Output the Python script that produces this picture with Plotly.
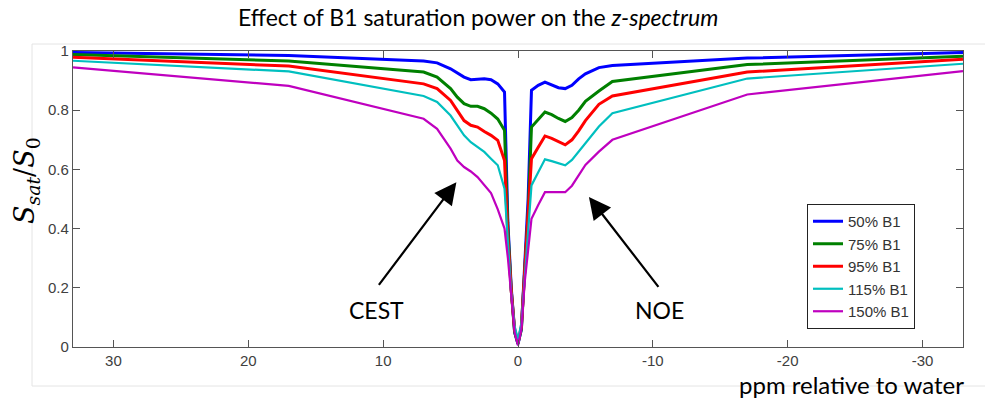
import plotly.graph_objects as go

ppm = [33, 17, 7, 6, 5, 4.5, 4, 3.5, 3, 2.5, 2, 1.5, 1, 0.75, 0.5, 0.25, 0,
       -0.25, -0.5, -0.75, -1, -1.5, -2, -2.5, -3, -3.5, -4, -4.5, -5, -6, -7, -17, -33]

b1_50 = [0.995, 0.985, 0.966, 0.960, 0.940, 0.927, 0.912, 0.903, 0.904, 0.906, 0.903, 0.889, 0.861,
         0.42, 0.20, 0.05, 0.010,
         0.06, 0.28, 0.50, 0.867, 0.884, 0.895, 0.886, 0.876, 0.873, 0.884, 0.906, 0.923, 0.944, 0.951, 0.976, 0.995]
b1_75 = [0.988, 0.966, 0.929, 0.912, 0.873, 0.844, 0.822, 0.813, 0.813, 0.805, 0.790, 0.770, 0.732,
         0.40, 0.19, 0.05, 0.012,
         0.06, 0.26, 0.45, 0.743, 0.770, 0.794, 0.785, 0.772, 0.762, 0.775, 0.800, 0.830, 0.865, 0.897, 0.954, 0.982]
b1_95 = [0.979, 0.949, 0.889, 0.873, 0.833, 0.799, 0.765, 0.749, 0.743, 0.728, 0.715, 0.698, 0.630,
         0.37, 0.19, 0.06, 0.015,
         0.07, 0.25, 0.42, 0.636, 0.675, 0.713, 0.705, 0.693, 0.683, 0.700, 0.730, 0.765, 0.820, 0.848, 0.929, 0.972]
b1_115 = [0.967, 0.931, 0.848, 0.828, 0.782, 0.749, 0.715, 0.692, 0.675, 0.659, 0.636, 0.614, 0.535,
          0.34, 0.18, 0.07, 0.025,
          0.08, 0.24, 0.38, 0.546, 0.590, 0.634, 0.628, 0.620, 0.614, 0.632, 0.660, 0.690, 0.745, 0.790, 0.907, 0.957]
b1_150 = [0.945, 0.882, 0.771, 0.737, 0.670, 0.630, 0.608, 0.593, 0.574, 0.546, 0.520, 0.465, 0.400,
          0.30, 0.17, 0.05, 0.005,
          0.06, 0.22, 0.33, 0.433, 0.480, 0.523, 0.523, 0.523, 0.523, 0.545, 0.580, 0.615, 0.660, 0.700, 0.853, 0.932]

series_names = ["50% B1", "75% B1", "95% B1", "115% B1", "150% B1"]
series_values = [b1_50, b1_75, b1_95, b1_115, b1_150]
series_colors = ["#0000FF", "#008000", "#FF0000", "#00BFBF", "#BF00BF"]
series_widths = [3, 3, 3, 2.2, 2.2]

x_ticks = [30, 20, 10, 0, -10, -20, -30]
y_ticks = [0, 0.2, 0.4, 0.6, 0.8, 1]

fig = go.Figure()
for name, vals, col, w in zip(series_names, series_values, series_colors, series_widths):
    fig.add_trace(go.Scatter(x=ppm, y=vals, mode="lines", name=name,
                             line=dict(color=col, width=w)))

W, H = 985, 399
L, R, T, B = 73, 22, 51, 52
pw, ph = W - L - R, H - T - B


def px(x):
    return (x - L) / pw


def py(y):
    return (H - B - y) / ph


axis_common = dict(showline=True, linecolor="#555555", linewidth=1.3, mirror="ticks",
                   ticks="inside", ticklen=7, tickcolor="#555555", tickwidth=1.3,
                   showgrid=False, zeroline=False,
                   tickfont=dict(family="Liberation Sans, Arial", size=15, color="#404040"))

fig.update_xaxes(range=[33, -33], tickvals=x_ticks, ticktext=[str(v) for v in x_ticks], **axis_common)
fig.update_yaxes(range=[0, 1], tickvals=y_ticks, ticktext=["0", "0.2", "0.4", "0.6", "0.8", "1"], **axis_common)

fig.update_layout(
    width=W, height=H,
    margin=dict(l=L, r=R, t=T, b=B),
    paper_bgcolor="white", plot_bgcolor="white",
    showlegend=True,
    legend=dict(x=px(807), y=py(204), xanchor="left", yanchor="top",
                bgcolor="white", bordercolor="#222222", borderwidth=1,
                font=dict(family="Liberation Sans, Arial", size=15, color="#333333"),
                tracegroupgap=0, itemwidth=30),
    shapes=[dict(type="rect", xref="paper", yref="paper",
                 x0=px(32), x1=px(990), y0=py(386), y1=py(44),
                 line=dict(color="#E4E4E4", width=1), fillcolor="rgba(0,0,0,0)", layer="below")],
)

big_font = dict(family="Lato, Open Sans, sans-serif", size=23, color="black")

fig.add_annotation(xref="paper", yref="paper", x=px(478), y=py(17),
                   text="Effect of B1 saturation power on the <i>z-spectrum</i>",
                   showarrow=False, font=big_font, xanchor="center", yanchor="middle")
fig.add_annotation(xref="paper", yref="paper", x=px(966), y=py(384),
                   text="ppm relative to water", showarrow=False,
                   font=dict(family="Lato, Open Sans, sans-serif", size=24, color="black"),
                   xanchor="right", yanchor="middle")
fig.add_annotation(xref="paper", yref="paper", x=px(26), y=py(181),
                   text="<i>S</i><sub><i>sat</i></sub>/<i>S</i><sub>0</sub>",
                   showarrow=False, textangle=-90,
                   font=dict(family="DejaVu Serif, serif", size=27, color="black"),
                   xanchor="center", yanchor="middle")

# CEST / NOE labels and arrows
fig.add_annotation(x=10.5, y=0.124, text="CEST", showarrow=False, font=big_font)
fig.add_annotation(x=-10.5, y=0.124, text="NOE", showarrow=False, font=big_font)
fig.add_annotation(x=4.57, y=0.557, ax=10.4, ay=0.205, axref="x", ayref="y",
                   text="", showarrow=True, arrowhead=2, arrowsize=2, arrowwidth=2.2,
                   arrowcolor="black")
fig.add_annotation(x=-5.26, y=0.507, ax=-10.5, ay=0.198, axref="x", ayref="y",
                   text="", showarrow=True, arrowhead=2, arrowsize=2, arrowwidth=2.2,
                   arrowcolor="black")

fig.write_html("out.html")
